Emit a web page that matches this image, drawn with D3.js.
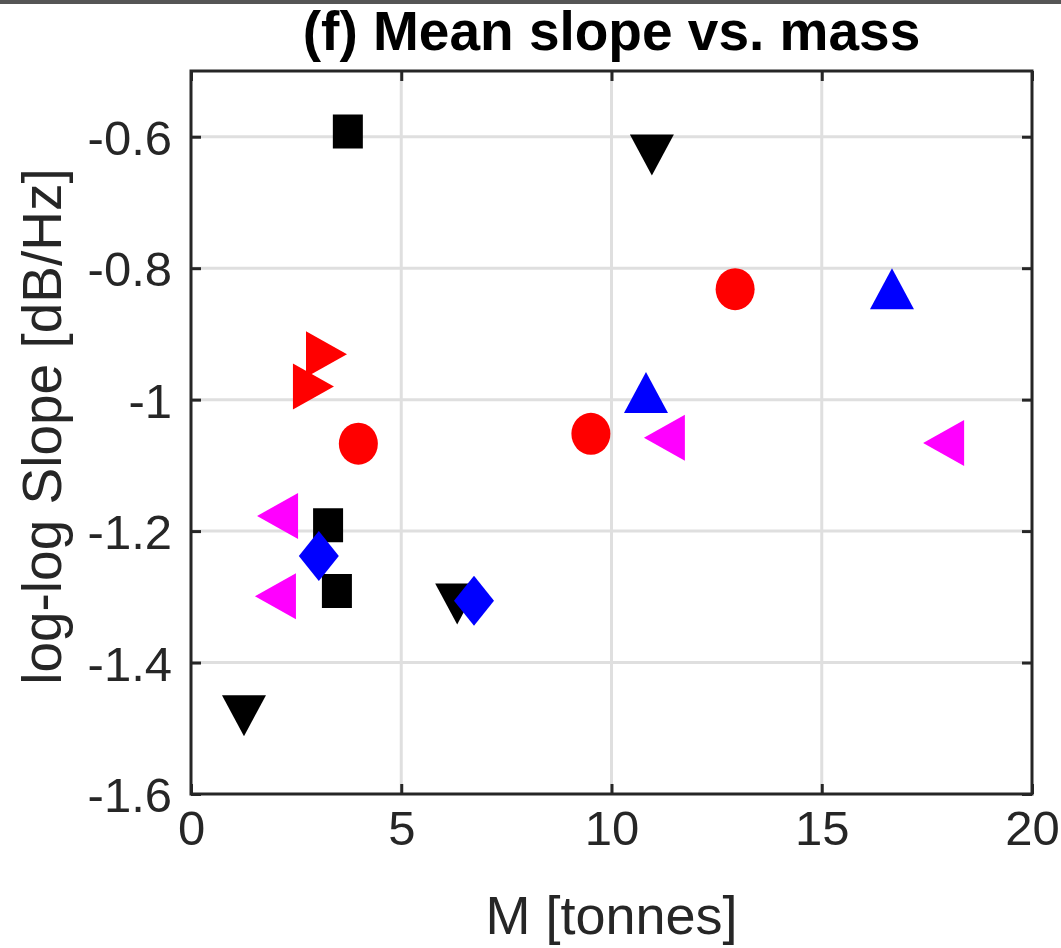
<!DOCTYPE html>
<html><head><meta charset="utf-8">
<script src="https://cdn.jsdelivr.net/npm/d3@7"></script>
<style>body{margin:0;background:#fff;}svg{display:block;font-family:"Liberation Sans",Arial,sans-serif;}</style>
</head><body>
<script>
const title = "(f) Mean slope vs. mass";
const xLabel = "M [tonnes]";
const yLabel = "log-log Slope [dB/Hz]";
const xTicks = [0, 5, 10, 15, 20];
const yTicks = [-1.6, -1.4, -1.2, -1, -0.8, -0.6];
const yTickLabels = ["-1.6", "-1.4", "-1.2", "-1", "-0.8", "-0.6"];

// series: [mass, slope]
const blackSquares = [[3.73, -0.592], [3.26, -1.191], [3.47, -1.291]];
const blackDown = [[10.96, -0.627], [1.26, -1.480], [6.33, -1.310]];
const redCircles = [[3.98, -1.067], [9.51, -1.052], [12.94, -0.832]];
const redRight = [[3.21, -0.931], [2.90, -0.980]];
const blueUp = [[16.67, -0.832], [10.82, -0.990]];
const blueDiamonds = [[3.04, -1.238], [6.73, -1.306]];
const magentaLeft = [[2.07, -1.177], [2.02, -1.299], [11.27, -1.058], [17.91, -1.066]];

const series = [
  {data: blackSquares, shape: "square", color: "#000000"},
  {data: blackDown, shape: "down", color: "#000000"},
  {data: redCircles, shape: "circle", color: "#ff0000"},
  {data: redRight, shape: "right", color: "#ff0000"},
  {data: blueUp, shape: "up", color: "#0000ff"},
  {data: blueDiamonds, shape: "diamond", color: "#0000ff"},
  {data: magentaLeft, shape: "left", color: "#ff00ff"}
];

const W = 1061, H = 948;
const L = 191, R = 1032, T = 71, B = 794;
const axisColor = "#262626";

const svg = d3.select("body").append("svg").attr("width", W).attr("height", H);
svg.append("rect").attr("width", W).attr("height", H).attr("fill", "#fff");
svg.append("rect").attr("x", 0).attr("y", 0).attr("width", W).attr("height", 4).attr("fill", "#555555");

const x = d3.scaleLinear().domain([0, 20]).range([L, R]);
const y = d3.scaleLinear().domain([-1.6, -0.5]).range([B, T]);

// grid
const grid = svg.append("g").attr("stroke", "#dfdfdf").attr("stroke-width", 3);
xTicks.forEach(t => { if (t > 0 && t < 20) grid.append("line").attr("x1", x(t)).attr("x2", x(t)).attr("y1", T).attr("y2", B); });
yTicks.forEach(t => { if (t > -1.6) grid.append("line").attr("x1", L).attr("x2", R).attr("y1", y(t)).attr("y2", y(t)); });

// axes via d3 axis (ticks inward)
const fs = 49;
const xAxis = svg.append("g").attr("transform", `translate(0,${B})`)
  .call(d3.axisBottom(x).tickValues(xTicks).tickSize(-10).tickPadding(0).tickFormat(d3.format("d")));
xAxis.selectAll("text").attr("y", 51).attr("dy", null);
const yAxis = svg.append("g").attr("transform", `translate(${L},0)`)
  .call(d3.axisLeft(y).tickValues(yTicks).tickSize(-10).tickFormat((d, i) => yTickLabels[i]));
yAxis.selectAll("text").attr("x", -19).attr("dy", "0.36em");
const xTop = svg.append("g").attr("transform", `translate(0,${T})`)
  .call(d3.axisTop(x).tickValues(xTicks).tickSize(-10).tickFormat(""));
const yRight = svg.append("g").attr("transform", `translate(${R},0)`)
  .call(d3.axisRight(y).tickValues(yTicks).tickSize(-10).tickFormat(""));
[xAxis, yAxis, xTop, yRight].forEach(g => {
  g.select(".domain").remove();
  g.selectAll("line").attr("stroke", axisColor).attr("stroke-width", 3);
  g.selectAll("text").attr("fill", axisColor).attr("font-size", fs).attr("font-family", "Liberation Sans, Arial, sans-serif");
});
svg.append("rect").attr("x", L).attr("y", T).attr("width", R - L).attr("height", B - T)
  .attr("fill", "none").attr("stroke", axisColor).attr("stroke-width", 3);

// markers
function shapePath(s, cx, cy) {
  let pts;
  if (s === "square") { const w = 15, h = 17; pts = [[-w,-h],[w,-h],[w,h],[-w,h]]; }
  else if (s === "down") { pts = [[-22,-20],[22,-20],[0,21]]; }
  else if (s === "up") { pts = [[-22,20],[22,20],[0,-21]]; }
  else if (s === "right") { pts = [[-20,-23],[-20,23],[21,0]]; }
  else if (s === "left") { pts = [[20,-23],[20,23],[-21,0]]; }
  else if (s === "diamond") { pts = [[0,-25],[20,0],[0,25],[-20,0]]; }
  return "M" + pts.map(p => (cx + p[0]) + "," + (cy + p[1])).join("L") + "Z";
}
const mg = svg.append("g");
series.forEach(sr => {
  sr.data.forEach(d => {
    const cx = x(d[0]), cy = y(d[1]);
    if (sr.shape === "circle") {
      mg.append("ellipse").attr("cx", cx).attr("cy", cy).attr("rx", 19.5).attr("ry", 21).attr("fill", sr.color);
    } else {
      mg.append("path").attr("d", shapePath(sr.shape, cx, cy)).attr("fill", sr.color);
    }
  });
});

// labels
svg.append("text").attr("x", (L + R) / 2).attr("y", 50).attr("text-anchor", "middle")
  .attr("font-size", 55).attr("font-weight", "bold").attr("fill", "#000").text(title);
svg.append("text").attr("x", (L + R) / 2).attr("y", 934).attr("text-anchor", "middle")
  .attr("font-size", 54).attr("fill", axisColor).text(xLabel);
svg.append("text").attr("transform", `translate(61,${(T + B) / 2 - 6}) rotate(-90)`).attr("text-anchor", "middle")
  .attr("font-size", 55).attr("fill", axisColor).text(yLabel);
</script>
</body></html>
